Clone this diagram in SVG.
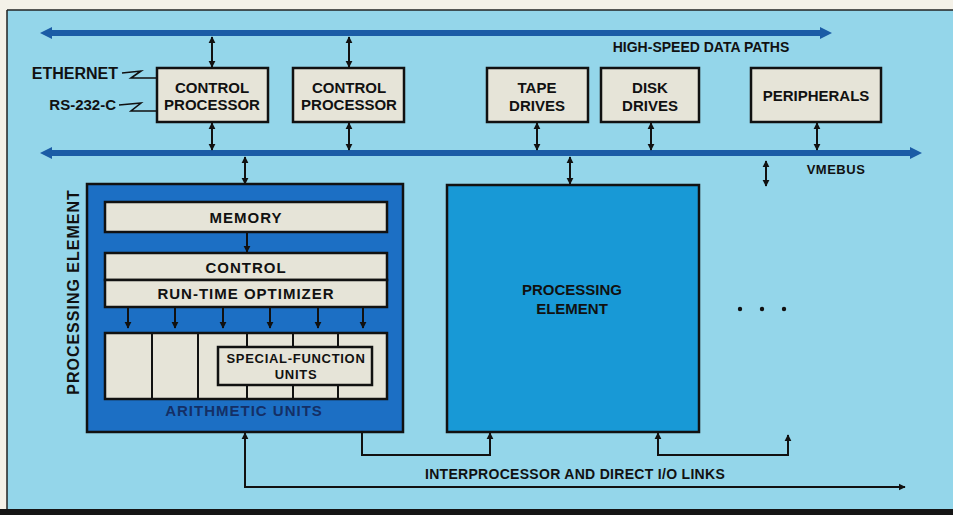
<svg xmlns="http://www.w3.org/2000/svg" width="953" height="515" viewBox="0 0 953 515">
<style>
.t{font-family:"Liberation Sans",Arial,sans-serif;font-weight:bold;fill:#111;}
.box{fill:#e6e4d8;stroke:#111;stroke-width:2.5;}
.bus{stroke:#1b5ca6;stroke-width:6;fill:none;}
.c{stroke:#111;stroke-width:2;fill:none;}
.thin{stroke:#111;stroke-width:1.6;fill:none;}
.ls{letter-spacing:1px;}
</style>
<defs>
<marker id="ah" viewBox="0 0 10 10" refX="9" refY="5" markerWidth="7" markerHeight="8" markerUnits="userSpaceOnUse" orient="auto-start-reverse">
<path d="M0,0 L10,5 L0,10 z" fill="#111"/>
</marker>
<marker id="bh" viewBox="0 0 10 10" refX="0" refY="5" markerWidth="12" markerHeight="15" markerUnits="userSpaceOnUse" orient="auto-start-reverse">
<path d="M0,0 L10,5 L0,10 z" fill="#1b5ca6"/>
</marker>
</defs>
<rect x="0" y="0" width="953" height="515" fill="#f4f1e8"/>
<rect x="7" y="10" width="946" height="500" fill="#94d6ea"/>
<line x1="7" y1="10" x2="953" y2="10" stroke="#222" stroke-width="1.5"/>
<line x1="7" y1="10" x2="7" y2="510" stroke="#222" stroke-width="1.5"/>
<rect x="0" y="509" width="953" height="6" fill="#151515"/>

<g id="connectors">
<line class="bus" x1="52" y1="33" x2="820" y2="33" marker-start="url(#bh)" marker-end="url(#bh)"/>
<line class="bus" x1="52" y1="153" x2="910" y2="153" marker-start="url(#bh)" marker-end="url(#bh)"/>
<line class="c" x1="212" y1="37" x2="212" y2="67" marker-start="url(#ah)" marker-end="url(#ah)"/>
<line class="c" x1="212" y1="123" x2="212" y2="150" marker-start="url(#ah)" marker-end="url(#ah)"/>
<line class="c" x1="349" y1="37" x2="349" y2="67" marker-start="url(#ah)" marker-end="url(#ah)"/>
<line class="c" x1="349" y1="123" x2="349" y2="150" marker-start="url(#ah)" marker-end="url(#ah)"/>
<line class="c" x1="537" y1="123" x2="537" y2="150" marker-start="url(#ah)" marker-end="url(#ah)"/>
<line class="c" x1="651" y1="123" x2="651" y2="150" marker-start="url(#ah)" marker-end="url(#ah)"/>
<line class="c" x1="817" y1="123" x2="817" y2="150" marker-start="url(#ah)" marker-end="url(#ah)"/>
<line class="c" x1="245" y1="157" x2="245" y2="184" marker-start="url(#ah)" marker-end="url(#ah)"/>
<line class="c" x1="570" y1="157" x2="570" y2="184" marker-start="url(#ah)" marker-end="url(#ah)"/>
<line class="c" x1="766" y1="161" x2="766" y2="186" marker-start="url(#ah)" marker-end="url(#ah)"/>
<path class="thin" d="M122,73 L141,71 L131,78 L157,78"/>
<path class="thin" d="M119,105 L141,103 L131,111 L157,111"/>
<path class="c" d="M245,433 L245,487 L905,487" marker-start="url(#ah)" marker-end="url(#ah)"/>
<path class="c" d="M362,433 L362,455 L490,455 L490,433" marker-end="url(#ah)"/>
<path class="c" d="M658,433 L658,455 L788,455 L788,435" marker-start="url(#ah)" marker-end="url(#ah)"/>
</g>

<g id="lbl-hs"><text class="t" x="701" y="52" font-size="14" text-anchor="middle">HIGH-SPEED DATA PATHS</text></g>
<g id="lbl-vme"><text class="t" x="836" y="174" font-size="13" text-anchor="middle" style="letter-spacing:0.5px">VMEBUS</text></g>
<g id="lbl-eth"><text class="t" x="118" y="79" font-size="16" text-anchor="end">ETHERNET</text></g>
<g id="lbl-rs"><text class="t" x="116" y="110" font-size="15" text-anchor="end">RS-232-C</text></g>

<g id="cp1">
<rect class="box" x="157" y="68" width="111" height="54"/>
<text class="t" x="212" y="93" font-size="15" text-anchor="middle">CONTROL</text>
<text class="t" x="212" y="110" font-size="15" text-anchor="middle">PROCESSOR</text>
</g>
<g id="cp2">
<rect class="box" x="293" y="68" width="111" height="54"/>
<text class="t" x="349" y="93" font-size="15" text-anchor="middle">CONTROL</text>
<text class="t" x="349" y="110" font-size="15" text-anchor="middle">PROCESSOR</text>
</g>
<g id="tape">
<rect class="box" x="487" y="68" width="101" height="54"/>
<text class="t" x="537" y="93" font-size="15" text-anchor="middle">TAPE</text>
<text class="t" x="537" y="111" font-size="15" text-anchor="middle">DRIVES</text>
</g>
<g id="disk">
<rect class="box" x="601" y="68" width="98" height="54"/>
<text class="t" x="650" y="93" font-size="15" text-anchor="middle">DISK</text>
<text class="t" x="650" y="111" font-size="15" text-anchor="middle">DRIVES</text>
</g>
<g id="periph">
<rect class="box" x="751" y="68" width="130" height="54"/>
<text class="t" x="816" y="101" font-size="15" text-anchor="middle">PERIPHERALS</text>
</g>

<g id="pe1">
<rect x="87" y="184" width="316" height="248" fill="#1c6fc4" stroke="#111" stroke-width="2.5"/>
<g id="memory">
<rect class="box" x="105" y="202" width="282" height="30"/>
<text class="t ls" x="246" y="223" font-size="15" text-anchor="middle">MEMORY</text>
</g>
<line class="c" x1="247" y1="232" x2="247" y2="252" marker-end="url(#ah)"/>
<g id="control">
<rect class="box" x="105" y="253" width="282" height="27"/>
<text class="t ls" x="246" y="273" font-size="15" text-anchor="middle">CONTROL</text>
</g>
<g id="rto">
<rect class="box" x="105" y="280" width="282" height="27"/>
<text class="t ls" x="246" y="299" font-size="15" text-anchor="middle">RUN-TIME OPTIMIZER</text>
</g>
<g fill="none">
<line class="c" x1="128" y1="308" x2="128" y2="328" marker-end="url(#ah)"/>
<line class="c" x1="175" y1="308" x2="175" y2="328" marker-end="url(#ah)"/>
<line class="c" x1="223" y1="308" x2="223" y2="328" marker-end="url(#ah)"/>
<line class="c" x1="270" y1="308" x2="270" y2="328" marker-end="url(#ah)"/>
<line class="c" x1="318" y1="308" x2="318" y2="328" marker-end="url(#ah)"/>
<line class="c" x1="363" y1="308" x2="363" y2="328" marker-end="url(#ah)"/>
</g>
<g id="arith">
<rect class="box" x="105" y="333" width="282" height="66"/>
<path class="c" d="M152,333 V399 M198,333 V399 M247,333 V399 M293,333 V399 M338,333 V399"/>
<g id="sfu">
<rect class="box" x="218" y="347" width="154" height="38"/>
<text class="t" x="296" y="363" font-size="13" text-anchor="middle" style="letter-spacing:0.7px">SPECIAL-FUNCTION</text>
<text class="t" x="296" y="379" font-size="13" text-anchor="middle" style="letter-spacing:0.7px">UNITS</text>
</g>
<text class="t ls" x="244" y="416" font-size="15" text-anchor="middle" style="fill:#142f66">ARITHMETIC UNITS</text>
</g>
</g>
<g id="lbl-pe1"><text class="t" transform="translate(79,292) rotate(-90)" font-size="16" text-anchor="middle" style="letter-spacing:1px">PROCESSING ELEMENT</text></g>

<g id="pe2">
<rect x="447" y="185" width="252" height="247" fill="#1899d6" stroke="#111" stroke-width="2.5"/>
<text class="t" x="572" y="295" font-size="15" text-anchor="middle">PROCESSING</text>
<text class="t" x="572" y="314" font-size="15" text-anchor="middle">ELEMENT</text>
</g>
<g id="dots" fill="#111">
<circle cx="740" cy="309" r="2.2"/>
<circle cx="762" cy="309" r="2.2"/>
<circle cx="784" cy="309" r="2.2"/>
</g>
<g id="lbl-ipl"><text class="t" x="575" y="479" font-size="14" text-anchor="middle" style="letter-spacing:0.3px">INTERPROCESSOR AND DIRECT I/O LINKS</text></g>
</svg>
